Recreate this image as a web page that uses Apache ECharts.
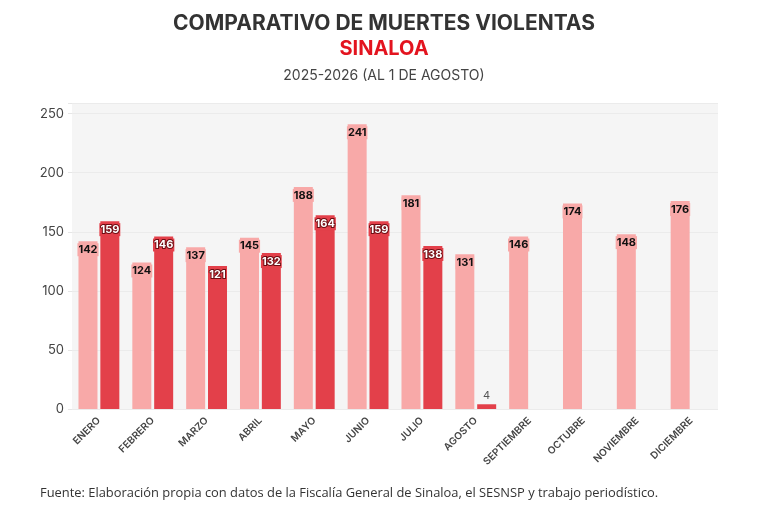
<!DOCTYPE html>
<html>
<head>
<meta charset="utf-8">
<script src="https://cdn.jsdelivr.net/npm/echarts@6/dist/echarts.min.js"></script>
<style>
html,body{margin:0;padding:0;background:#fff;}
#c{width:768px;height:512px;}
</style>
</head>
<body>
<div id="c"></div>
<script>
const months = ['ENERO','FEBRERO','MARZO','ABRIL','MAYO','JUNIO','JULIO','AGOSTO','SEPTIEMBRE','OCTUBRE','NOVIEMBRE','DICIEMBRE'];
const values2025 = [142,124,137,145,188,241,181,131,146,174,148,176];
const values2026 = [159,146,121,132,164,159,138,4,null,null,null,null];
const yTicks = [0,50,100,150,200,250];

const light = '#f8a9a8';
const dark = '#e3404a';

const chart = echarts.init(document.getElementById('c'));

function smallLabel() {
  return {position:'top', distance:3, color:'#555', backgroundColor:'transparent', fontWeight:'normal', textBorderWidth:0, fontSize:11, padding:0};
}

chart.setOption({
  animation:false,
  title:[
    {text:'COMPARATIVO DE MUERTES VIOLENTAS', left:'center', top:8,
     textStyle:{fontFamily:'Inter', fontWeight:'bold', fontSize:21, color:'#333'}},
    {text:'SINALOA', left:'center', top:34,
     textStyle:{fontFamily:'Inter', fontWeight:'bold', fontSize:20, color:'#e3141f'}},
    {text:'2025-2026 (AL 1 DE AGOSTO)', left:'center', top:64,
     textStyle:{fontFamily:'Inter', fontWeight:'normal', fontSize:14, color:'#444'}},
    {text:'Fuente: Elaboración propia con datos de la Fiscalía General de Sinaloa, el SESNSP y trabajo periodístico.', left:40, top:487, padding:0,
     textStyle:{fontFamily:'Open Sans', fontWeight:'normal', fontSize:12.9, color:'#333'}}
  ],
  grid:{left:72, right:50, top:103, bottom:103, show:true, backgroundColor:'#f5f5f5', borderWidth:0},
  xAxis:{
    type:'category', data:months,
    axisLine:{show:false}, axisTick:{show:false},
    axisLabel:{rotate:45, fontSize:10, fontWeight:600, color:'#444', fontFamily:'Inter', margin:10, interval:0}
  },
  yAxis:{
    type:'value', min:0, max:259, interval:50,
    axisLine:{show:false},
    axisTick:{show:true, length:4, lineStyle:{color:'#e6e6e6'}},
    axisLabel:{fontSize:13, color:'#444', fontFamily:'Inter', margin:8,
      formatter:function(v){return yTicks.indexOf(v)>=0 ? String(v) : '';}},
    splitLine:{lineStyle:{color:'#ebebeb'}}
  },
  series:[
    {
      name:'2025', type:'bar', barWidth:19, barGap:'15%',
      itemStyle:{color:light},
      label:{show:true, position:'insideTop', distance:2, color:'#111', fontWeight:'bold', fontSize:11,
        fontFamily:'Inter', backgroundColor:light, padding:[1,1]},
      data:values2025
    },
    {
      name:'2026', type:'bar', barWidth:19,
      itemStyle:{color:dark},
      label:{show:true, position:'insideTop', distance:2, color:'#fff', fontWeight:'bold', fontSize:11,
        fontFamily:'Inter', backgroundColor:dark, padding:[1,1], textBorderColor:'#6e0c12', textBorderWidth:2},
      data:values2026.map(function(v){
        if (v !== null && v < 20) return {value:v, label:smallLabel()};
        return v;
      })
    }
  ]
});
</script>
</body>
</html>
